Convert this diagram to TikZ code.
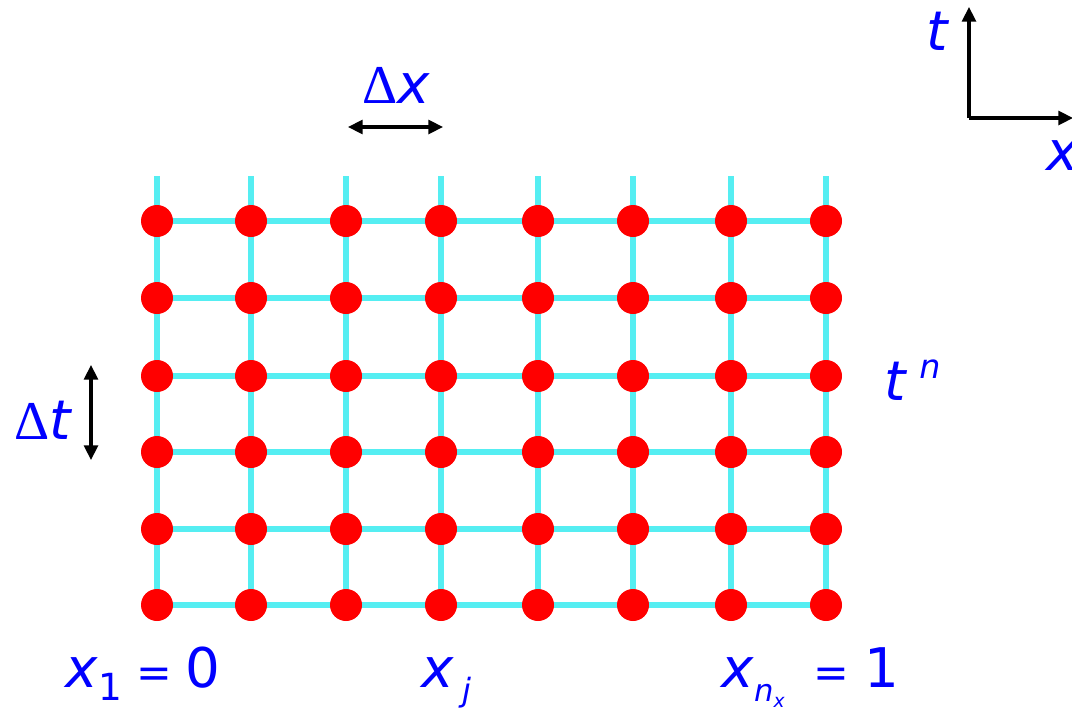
\documentclass[tikz,border=0pt]{standalone}
\usepackage{fontspec}
\setmainfont{DejaVu Sans}
\newfontfamily\deltafont{Liberation Serif}
\usetikzlibrary{arrows.meta, backgrounds}
\definecolor{GridC}{HTML}{55EEF2}
\definecolor{DotR} {HTML}{FF0000}
\definecolor{LabB} {HTML}{0000FF}
\newcommand{\mainsize}{\fontsize{41}{41}\selectfont}
\newcommand{\subsize}[1]{\fontsize{#1}{#1}\selectfont}
\newcommand{\eqsign}{{\subsize{32}=}}
\tikzset{
  gridln/.style={draw=GridC, line width=4.4pt},
  gpt/.style={circle, fill=DotR, inner sep=0pt, minimum size=24pt},
  lab/.style={text=LabB, font=\mainsize, inner sep=0pt, anchor=base west},
  dblarr/.style={
    {Triangle[length=11pt,width=10.5pt]}-{Triangle[length=11pt,width=10.5pt]},
    line width=2.3pt, black,
  },
  axarr/.style={
    -{Triangle[length=11pt,width=10.5pt]},
    line width=2.3pt, black,
  },
}
\begin{document}
\begin{tikzpicture}[x=0.75pt,y=-0.75pt]
    \useasboundingbox (0,0) rectangle (1072,711);

    % mesh points
    \foreach \cx [count=\i] in {157,251,346,441,538,633,731,826}{
      \foreach \ry [count=\j] in {221,298,376,452,529,605}{
        \node[gpt] (d-\i-\j) at (\cx,\ry) {};
      }
      \coordinate (top-\i) at (\cx,176);
    }
    \begin{scope}[on background layer]
      \foreach \i in {1,...,8} \draw[gridln] (top-\i) -- (d-\i-6.center);
      \foreach \j in {1,...,6} \draw[gridln] (d-1-\j.center) -- (d-8-\j.center);
    \end{scope}

    % spacing arrows
    \coordinate (dxl) at (348,127);
    \coordinate (dxr) at (443,127);
    \draw[dblarr] (dxl) -- (dxr);
    \coordinate (dtt) at (91,365);
    \coordinate (dtb) at (91,460);
    \draw[dblarr] (dtt) -- (dtb);

    % axes
    \coordinate (org) at (969,118);
    \coordinate (tax) at (969,7);
    \coordinate (xax) at (1073,118);
    \draw[axarr] (org) -- (tax);
    \draw[axarr] (org) -- (xax);

    % labels
    \node[lab] (lbl-dx) at (362,103) {{\deltafont Δ}\textit{x}};
    \node[lab] (lbl-dt) at (14,439)  {{\deltafont Δ}\textit{t}};
    \node[lab] (lbl-tn) at (884,400)
      {\textit{t}\hspace{9pt}\raisebox{16pt}{\subsize{25}\itshape n}};
    \node[lab] (lbl-x1) at (65,687)
      {\textit{x}\raisebox{-9.75pt}{\subsize{28}1}\hspace{11pt}\eqsign\hspace{10pt}0};
    \node[lab] (lbl-xj) at (421,687)
      {\textit{x}\hspace{6pt}\raisebox{-10.5pt}{\subsize{24}\itshape j}};
    \node[lab] (lbl-xn) at (721,687)
      {\textit{x}\raisebox{-10.5pt}{\subsize{23}\itshape n\raisebox{-5pt}{\subsize{14}x}}\hspace{22pt}\eqsign\hspace{11pt}1};
    \node[lab] (lbl-t) at (926,50) {\textit{t}};
    \node[lab] (lbl-x) at (1046,170) {\textit{x}};
\end{tikzpicture}
\end{document}
